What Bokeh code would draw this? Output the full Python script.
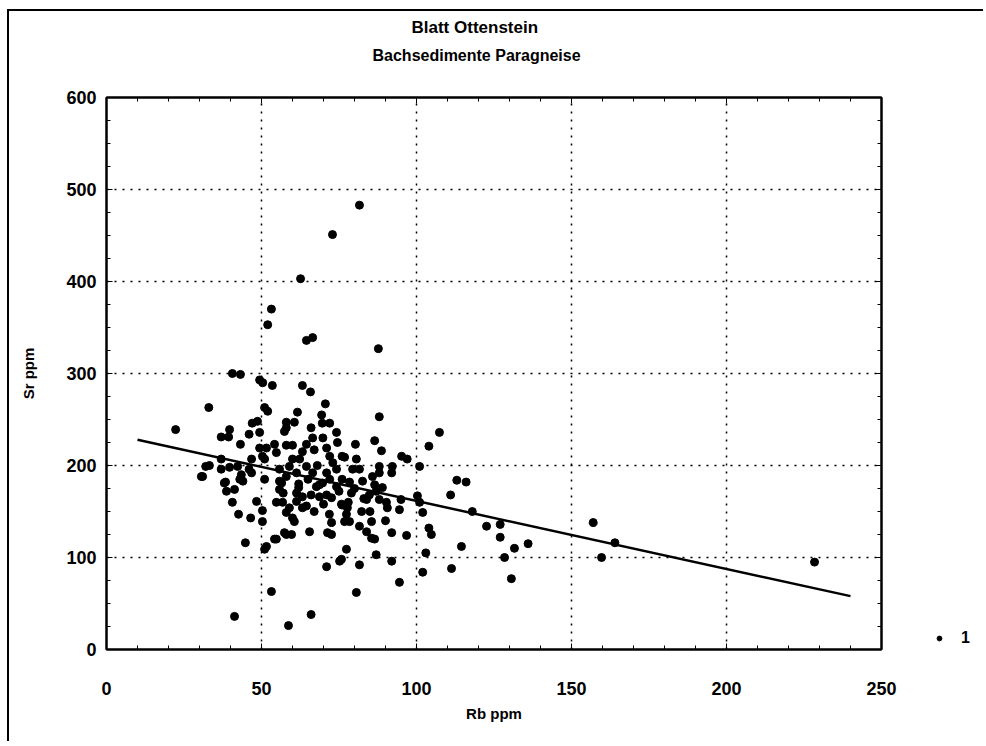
from bokeh.plotting import figure
from bokeh.layouts import row
from bokeh.models import Range1d, SingleIntervalTicker, LinearAxis, Title, Legend, LegendItem, CustomJSTickFormatter
from bokeh.embed import file_html
from bokeh.resources import INLINE

title1 = "Blatt Ottenstein"
title2 = "Bachsedimente Paragneise"
x_label = "Rb ppm"
y_label = "Sr ppm"
series_name = "1"

rb = [81.6, 72.9, 62.6, 53.2, 52, 64.5, 66.5, 87.7,
      40.6, 43.2, 49.4, 50.4, 53.5, 63.2, 65.8,
      33, 51, 52, 70.6, 61.6, 69.4, 88,
      58, 60.6, 47, 48.7, 69.6, 72,
      22.3, 39.7, 37, 39.4, 46, 49.4, 58, 57.4, 66, 66.5, 69.8, 74.2, 74.5, 107.4,
      43.2, 80.3, 86.5, 104, 88.7,
      49.4, 54.2, 51.6, 58, 60, 64.5, 63.2, 67, 71, 72, 76, 80.6, 54.8, 51, 60, 62.3, 50.3, 37, 46.8, 95.2, 97, 76.8,
      33.2, 32, 37, 39.7, 42.3, 43.5, 44, 51, 30.6, 38.4, 41.3, 46, 46.8,
      55.8, 59, 64.5, 66.5, 71, 74.2, 79.4, 81.6, 85.8, 76, 78.4, 82.6, 55.8, 68.7, 61.3, 87, 84.8, 71,
      88, 92.2, 92, 88, 101, 113, 116, 111, 100.3, 101, 86.5, 89,
      31, 38, 38.7, 43, 40.6, 42.6, 46.5, 50.3, 48.4, 50.3, 44.8, 51, 51.6, 54.8, 58, 59.7,
      53.2, 41.3, 66, 58.7,
      65.5, 71.3, 72.6, 77.4, 71, 75.8, 68.7, 72.6, 76, 77.4, 59, 61.3, 64.5, 54.8, 56.8, 58, 60, 63.2, 66, 56.5, 58, 67.7, 69.7, 74.2, 61.3,
      55.8, 63.2, 60.6, 71.9, 75.8, 77.7, 82.3, 83.9, 76.8, 78.4, 81.6, 83.9, 86.5, 72.6, 57.4, 54.2, 75.2, 81.6, 80.6,
      94.5, 90.6, 83, 102, 118, 85.5, 104, 104.8, 92, 96.8, 114.5, 122.6, 127, 127, 103, 87, 92, 111.3, 102, 94.5, 90.3, 88, 95, 130.6, 128.4, 131.6, 136, 85.5,
      157, 164, 159.7, 228.4,
      62, 65, 72, 75, 80, 78, 67, 70, 85, 90, 68, 73, 79, 62, 57]
sr = [483, 451, 403, 370, 353, 336, 339, 327,
      300, 299, 293, 290, 287, 287, 280,
      263, 263, 259, 267, 258, 255, 253,
      247, 247, 246, 248, 246, 246,
      239, 239, 231, 231, 234, 236, 241, 237, 241, 230, 230, 236, 225, 236,
      223, 223, 227, 221, 216,
      219, 223, 219, 222, 222, 223, 215, 217, 219, 210, 210, 207, 214, 207, 207, 207, 210, 207, 207, 210, 207, 209,
      200, 199, 196, 198, 199, 190, 183, 185, 188, 182, 174, 196, 192,
      196, 199, 199, 192, 192, 196, 196, 196, 188, 185, 182, 183, 183, 179, 170, 172, 168, 168,
      199, 199, 192, 192, 199, 184, 182, 168, 167, 160, 179, 176,
      188, 181, 172, 185, 160, 147, 143, 139, 161, 151, 116, 109, 112, 120, 125, 125,
      63, 36, 38, 26,
      128, 127, 138, 109, 90, 98, 166, 165, 157, 147, 154, 161, 156, 160, 160, 149, 143, 166, 168, 181, 188, 177, 181, 177, 192,
      174, 154, 139, 147, 158, 154, 150, 163, 139, 139, 134, 128, 120, 125, 127, 120, 96, 92, 62,
      152, 154, 164, 149, 150, 139, 132, 125, 127, 124, 112, 134, 136, 122, 105, 103, 96, 88, 84, 73, 160, 163, 163, 77, 100, 110, 115, 121,
      138, 116, 100, 95,
      180, 185, 185, 172, 175, 160, 150, 158, 150, 140, 200, 203, 170, 176, 170]

fit_rb = [10, 240]
fit_sr = [228, 58]

FONT = "Liberation Sans"

p = figure(width=892, height=730, output_backend="svg", toolbar_location=None,
           x_range=Range1d(0, 250), y_range=Range1d(0, 600),
           min_border_left=97, min_border_right=20, min_border_top=86, min_border_bottom=92)

p.background_fill_color = "white"
p.border_fill_color = "white"
p.outline_line_color = "black"
p.outline_line_width = 2

p.xaxis.ticker = SingleIntervalTicker(interval=50, num_minor_ticks=5)
p.yaxis.ticker = SingleIntervalTicker(interval=100, num_minor_ticks=4)

for ax in (p.xaxis[0], p.yaxis[0]):
    ax.axis_line_color = "black"
    ax.axis_line_width = 2
    ax.major_tick_in = 6
    ax.major_tick_out = 0
    ax.minor_tick_in = 4
    ax.minor_tick_out = 0
    ax.major_tick_line_color = "black"
    ax.minor_tick_line_color = "black"
    ax.major_label_text_font = FONT
    ax.major_label_text_font_style = "bold"
    ax.major_label_text_font_size = "18px"
    ax.major_label_text_color = "black"
    ax.axis_label_text_font = FONT
    ax.axis_label_text_font_style = "bold"
    ax.axis_label_text_font_size = "15px"
    ax.axis_label_text_color = "black"

p.xaxis.axis_label = x_label
p.yaxis.axis_label = y_label
p.xaxis.major_label_standoff = 32
p.xaxis.axis_label_standoff = 7
p.yaxis.major_label_standoff = 10
p.yaxis.axis_label_standoff = 26

blank = CustomJSTickFormatter(code="return '';")
top_ax = LinearAxis(ticker=SingleIntervalTicker(interval=50, num_minor_ticks=5), formatter=blank)
right_ax = LinearAxis(ticker=SingleIntervalTicker(interval=100, num_minor_ticks=4), formatter=blank)
for ax in (top_ax, right_ax):
    ax.axis_line_color = "black"
    ax.axis_line_width = 2
    ax.major_tick_in = 6
    ax.major_tick_out = 0
    ax.minor_tick_in = 4
    ax.minor_tick_out = 0
    ax.major_label_standoff = 0
    ax.major_label_text_font_size = "2px"
p.add_layout(top_ax, "above")
p.add_layout(right_ax, "right")

# invisible spacer between the frame and the two title lines
spacer = LinearAxis(ticker=SingleIntervalTicker(interval=250, num_minor_ticks=0), formatter=blank)
spacer.axis_line_color = None
spacer.major_tick_line_color = None
spacer.minor_tick_line_color = None
spacer.major_tick_in = 0
spacer.major_tick_out = 30
spacer.minor_tick_out = 0
spacer.major_label_standoff = 0
spacer.major_label_text_font_size = "2px"
p.add_layout(spacer, "above")

p.xgrid.grid_line_color = "black"
p.ygrid.grid_line_color = "black"
p.xgrid.grid_line_width = 1.5
p.ygrid.grid_line_width = 1.5
p.xgrid.grid_line_dash = "2 6"
p.ygrid.grid_line_dash = "2 6"

pts = p.scatter(rb, sr, marker="circle", size=8, fill_color="black", line_color="black")
p.line(fit_rb, fit_sr, line_color="black", line_width=2.5)

p.add_layout(Title(text=title2, align="left", offset=266, standoff=8,
                   text_font=FONT, text_font_style="bold", text_font_size="16px", text_color="black"), "above")
p.add_layout(Title(text=title1, align="left", offset=305, standoff=7,
                   text_font=FONT, text_font_style="bold", text_font_size="17px", text_color="black"), "above")

# legend panel to the right of the plot
q = figure(width=82, height=730, output_backend="svg", toolbar_location=None,
           x_range=Range1d(0, 1), y_range=Range1d(0, 1),
           x_axis_location=None, y_axis_location=None,
           min_border_left=0, min_border_right=0, min_border_top=0, min_border_bottom=0)
q.grid.visible = False
q.outline_line_color = None
q.background_fill_color = "white"
q.border_fill_color = "white"
leg_pts = q.scatter(rb, sr, marker="circle", size=8, fill_color="black", line_color="black")
legend = Legend(items=[LegendItem(label=series_name, renderers=[leg_pts])], location=(32, 2),
                border_line_color=None, background_fill_alpha=0, padding=0, margin=0,
                glyph_width=12, glyph_height=14, label_standoff=16,
                label_text_font=FONT, label_text_font_style="bold", label_text_font_size="16px",
                label_text_color="black")
q.add_layout(legend)

layout = row(p, q, styles={"margin-left": "7px", "margin-top": "9px",
                           "border-left": "2px solid black", "border-top": "2px solid black"})

open("out.html", "w").write(file_html(layout, INLINE))
